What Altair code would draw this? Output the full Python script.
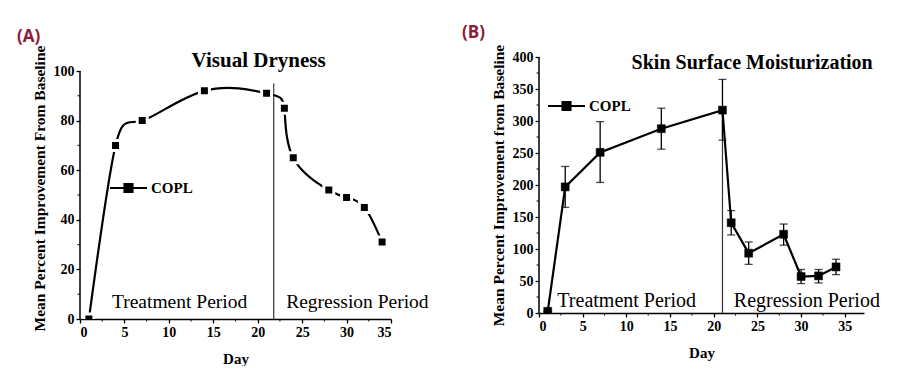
import altair as alt
import pandas as pd

SERIF = "Liberation Serif"
SANS = "Open Sans"
MAROON = "#8c1a3c"

# ---------------- data ----------------
series_name = ["COPL"]

# Panel A: Visual Dryness
a_day = [1, 4, 7, 14, 21, 23, 24, 28, 30, 32, 34]
a_val = [0, 70, 80, 92, 91, 85, 65, 52, 49, 45, 31]
a_divider_day = [21.8]
a_divider_top = [95]
a_x_ticks = [0, 5, 10, 15, 20, 25, 30, 35]
a_x_minor = [2.5, 7.5, 12.5, 17.5, 22.5, 27.5, 32.5]
a_y_ticks = [0, 20, 40, 60, 80, 100]
a_y_minor = [10, 30, 50, 70, 90]
a_notes = ["Treatment Period", "Regression Period"]
a_note_day = [3.6, 23.2]
a_note_val = [4.6, 4.6]
a_title = ["Visual Dryness"]
a_title_day = [20.1]
a_title_val = [101.5]

# Panel B: Skin Surface Moisturization
b_day = [1, 3, 7, 14, 21, 22, 24, 28, 30, 32, 34]
b_val = [2.6, 197, 251, 288, 317, 141, 93.5, 123, 57, 58, 72]
b_lo = [2.6, 165, 204, 256, 270, 122, 76, 106, 46, 47, 60]
b_hi = [2.6, 229, 299, 320, 365, 160, 111, 139, 68, 68, 84]
b_divider_day = [21]
b_divider_top = [317]
b_x_ticks = [0, 5, 10, 15, 20, 25, 30, 35]
b_x_minor = [2.5, 7.5, 12.5, 17.5, 22.5, 27.5, 32.5]
b_y_ticks = [0, 50, 100, 150, 200, 250, 300, 350, 400]
b_y_minor = [25, 75, 125, 175, 225, 275, 325, 375]
b_notes = ["Treatment Period", "Regression Period"]
b_note_day = [2.1, 22.3]
b_note_val = [10, 10]
b_title = ["Skin Surface Moisturization"]
b_title_day = [24.4]
b_title_val = [381]

LEGEND_PATH = "M-1,0H1M-0.22,-0.22H0.22V0.22H-0.22Z"


def panel(days, vals, x_domain, y_domain, x_ticks, y_ticks, x_minor, y_minor,
          divider_day, divider_top, notes, note_day, note_val, note_size,
          title, title_day, title_val, title_size, y_title, W, H, legend_xy, interp,
          halo, err=None):
    df = pd.DataFrame({"Day": days, "Value": vals, "Series": series_name * len(days)})
    xs = alt.Scale(domain=x_domain, nice=False, zero=False)
    ys = alt.Scale(domain=y_domain, nice=False, zero=False)
    xax = alt.Axis(values=x_ticks, title="Day", format="d", grid=False)
    yax = alt.Axis(values=y_ticks, title=y_title, format="d", grid=False, domain=False)
    X = lambda: alt.X("Day:Q", scale=xs, axis=xax)
    Y = lambda f="Value": alt.Y(f + ":Q", scale=ys, axis=yax)

    base = alt.Chart(df)

    # y-axis line spanning the labelled tick range
    yline = alt.Chart(pd.DataFrame({"Value": [y_ticks[0]], "Top": [y_ticks[-1]]})).mark_rule(
        color="black", strokeWidth=1.5).encode(y=Y(), y2="Top:Q", x=alt.value(0))

    # minor ticks
    xm = alt.Chart(pd.DataFrame({"Day": x_minor})).mark_rule(color="black", strokeWidth=1).encode(
        x=X(), y=alt.value(H), y2=alt.value(H + 2.5))
    ym = alt.Chart(pd.DataFrame({"Value": y_minor})).mark_rule(color="black", strokeWidth=1).encode(
        y=Y(), x=alt.value(0), x2=alt.value(-2.5))

    div = alt.Chart(pd.DataFrame({"Day": divider_day, "Top": divider_top, "Bottom": [y_domain[0]]})).mark_rule(
        color="#333333", strokeWidth=1.2).encode(x=X(), y=alt.Y("Bottom:Q", scale=ys, axis=yax), y2="Top:Q")

    line = base.mark_line(strokeWidth=2.2, interpolate=interp).encode(
        x=X(), y=Y(),
        color=alt.Color("Series:N", scale=alt.Scale(range=["black"]),
                        legend=alt.Legend(title=None, orient="none",
                                          legendX=legend_xy[0], legendY=legend_xy[1],
                                          symbolType=LEGEND_PATH, symbolSize=1369,
                                          symbolStrokeWidth=2, symbolFillColor="black",
                                          symbolStrokeColor="black",
                                          labelFont=SERIF, labelFontSize=15,
                                          labelFontWeight="bold", labelColor="black",
                                          labelOffset=3, padding=0)))

    layers = [yline, xm, ym, div]
    if err is not None:
        edf = pd.DataFrame({"Day": days, "Lo": err[0], "Hi": err[1]})
        layers.append(alt.Chart(edf).mark_rule(color="black", strokeWidth=1.3).encode(
            x=X(), y=alt.Y("Lo:Q", scale=ys, axis=yax), y2="Hi:Q"))
        layers.append(alt.Chart(edf).mark_tick(color="black", orient="horizontal", size=8,
                                               thickness=1.3).encode(x=X(), y=alt.Y("Lo:Q", scale=ys, axis=yax)))
        layers.append(alt.Chart(edf).mark_tick(color="black", orient="horizontal", size=8,
                                               thickness=1.3).encode(x=X(), y=alt.Y("Hi:Q", scale=ys, axis=yax)))
    layers.append(line)
    if halo:
        pts = base.mark_point(shape="square", filled=True, size=100, fill="black", stroke="white",
                              strokeWidth=3, opacity=1, clip=True)
    else:
        pts = base.mark_point(shape="square", filled=True, size=64, fill="black", stroke="black",
                              strokeWidth=0.5, opacity=1, clip=True)
    layers.append(pts.encode(x=X(), y=Y()))

    ndf = pd.DataFrame({"Day": note_day, "Value": note_val, "Text": notes})
    layers.append(alt.Chart(ndf).mark_text(font=SERIF, fontSize=note_size, align="left",
                                           baseline="alphabetic", color="black").encode(
        x=X(), y=Y(), text="Text:N"))
    tdf = pd.DataFrame({"Day": title_day, "Value": title_val, "Text": title})
    layers.append(alt.Chart(tdf).mark_text(font=SERIF, fontSize=title_size, fontWeight="bold",
                                           align="center", baseline="alphabetic", color="black").encode(
        x=X(), y=Y(), text="Text:N"))
    return alt.layer(*layers).properties(width=W, height=H)


# panel A's view starts 14 px above its top tick so that it sits lower than panel B
A_H = 262
A = panel(a_day, a_val, [0, 35], [0, 100 * A_H / 248], a_x_ticks, a_y_ticks, a_x_minor, a_y_minor,
          a_divider_day, a_divider_top, a_notes, a_note_day, a_note_val, 19.5,
          a_title, a_title_day, a_title_val, 21, "Mean Percent Improvement From Baseline",
          311, A_H, (29, 111.5), "natural", True).properties(
    title=alt.TitleParams("(A)", anchor="start", frame="group", dx=-63, offset=-0.5,
                          font=SANS, fontSize=17, fontWeight="bold", color=MAROON))

B = panel(b_day, b_val, [0, 37.2], [0, 400], b_x_ticks, b_y_ticks, b_x_minor, b_y_minor,
          b_divider_day, b_divider_top, b_notes, b_note_day, b_note_val, 20,
          b_title, b_title_day, b_title_val, 20, "Mean Percent Improvement from Baseline",
          325, 256, (8, 29.5), "linear", False, err=(b_lo, b_hi)).properties(
    title=alt.TitleParams("(B)", anchor="start", frame="group", dx=-77, offset=2,
                          font=SANS, fontSize=17, fontWeight="bold", color=MAROON))

chart = alt.hconcat(A, B, spacing=33).resolve_scale(color="independent").resolve_legend(
    color="independent").properties(
    padding={"left": 9, "top": 16, "right": 0, "bottom": 0}
).configure_view(stroke=None).configure_axis(
    labelFont=SERIF, labelFontSize=14, labelFontWeight="bold", labelColor="black",
    titleFont=SERIF, titleFontSize=15.5, titleFontWeight="bold", titleColor="black",
    domainColor="black", domainWidth=1.5, tickColor="black", tickWidth=1.3, tickSize=4,
    labelPadding=2, titlePadding=6
).configure_axisX(titleFontSize=15, titlePadding=12)

chart.save("out.html", embed_options={"renderer": "svg", "actions": False})
